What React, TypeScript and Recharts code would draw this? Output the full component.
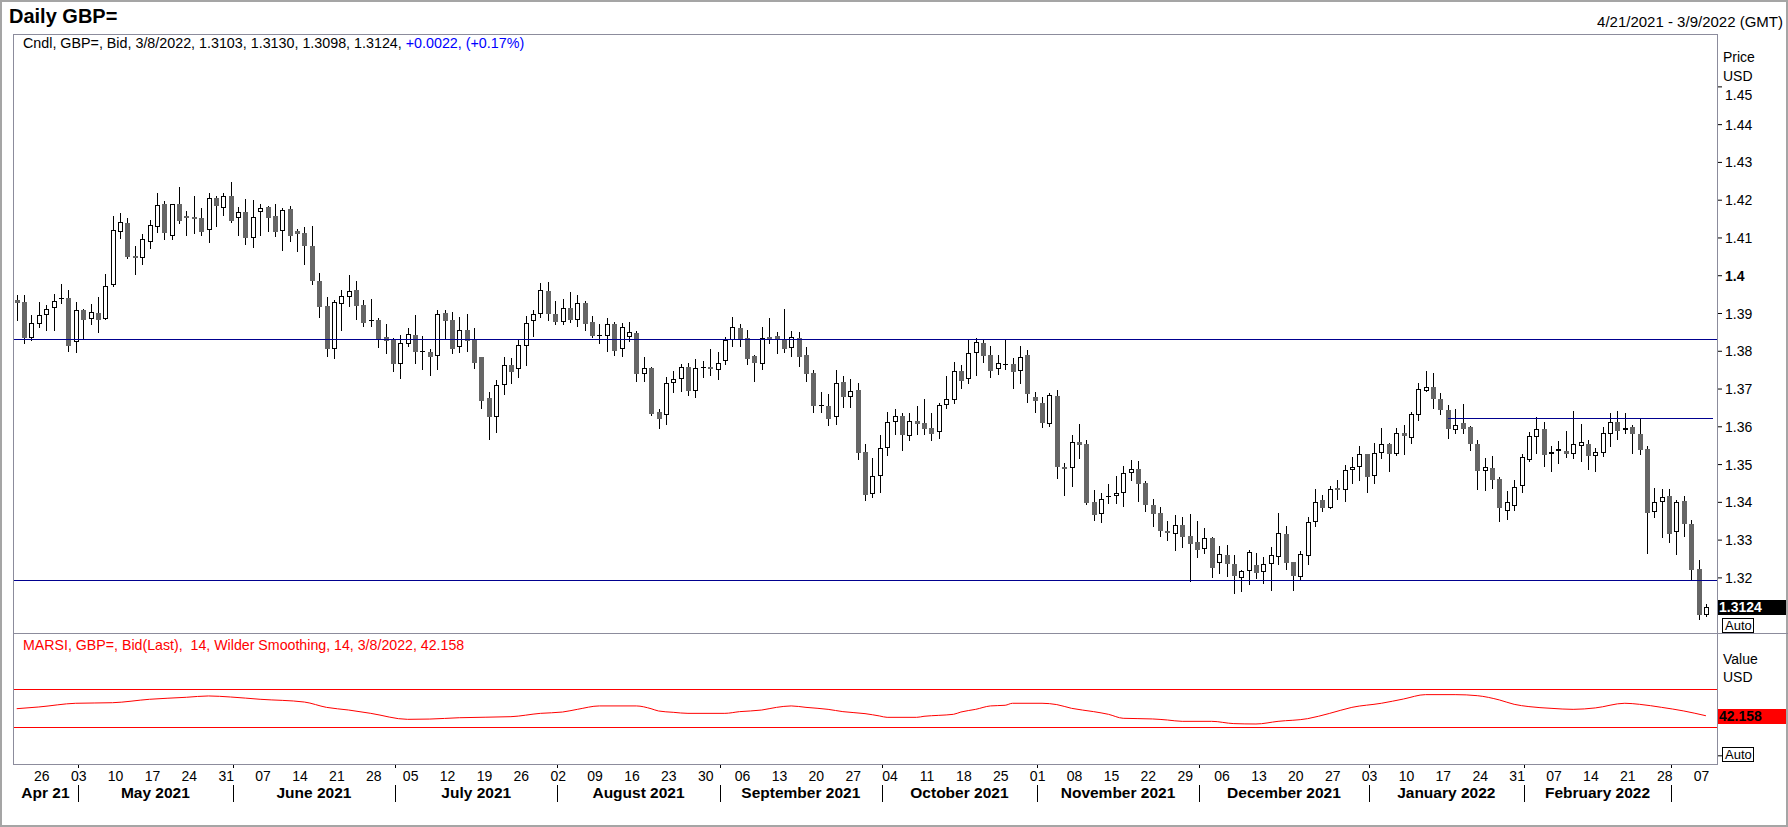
import React from "react";
import { Bar, ComposedChart, Line, LineChart, ReferenceLine, XAxis, YAxis } from "recharts";

const FONT = '"Liberation Sans", Arial, sans-serif';
const FRAME = "#8c8c9c";
const NAVY = "#00008f";
const RED = "#ff0000";
const BEAR = "#666666";

// daily GBP= bid candles, [open, high, low, close], one row per weekday
const apr21 = [
  [1.3937, 1.395, 1.3884, 1.3929], [1.3931, 1.395, 1.3822, 1.3834], [1.3834, 1.3896, 1.3831, 1.3875],
  [1.3873, 1.393, 1.3864, 1.3895], [1.3895, 1.3923, 1.3855, 1.3911], [1.3914, 1.3952, 1.3857, 1.3933],
  [1.3941, 1.3977, 1.3929, 1.3938], [1.3942, 1.3961, 1.38, 1.3813],
];
const may21 = [
  [1.3824, 1.393, 1.3797, 1.3909], [1.3909, 1.3911, 1.3834, 1.3884], [1.3885, 1.3926, 1.3872, 1.3903],
  [1.3901, 1.3943, 1.3852, 1.3884], [1.3885, 1.4005, 1.3885, 1.3973], [1.3976, 1.4158, 1.3974, 1.412],
  [1.4115, 1.4167, 1.41, 1.4142], [1.414, 1.4152, 1.4046, 1.4049], [1.4052, 1.4079, 1.4004, 1.4047],
  [1.4048, 1.4111, 1.4031, 1.4097], [1.4089, 1.4148, 1.4074, 1.4133], [1.4128, 1.4219, 1.4115, 1.4186],
  [1.419, 1.4199, 1.4097, 1.4112], [1.4106, 1.4191, 1.4097, 1.419], [1.419, 1.4235, 1.4139, 1.4146],
  [1.4157, 1.4172, 1.4108, 1.4154], [1.4155, 1.4211, 1.4114, 1.4151], [1.4152, 1.4178, 1.4107, 1.4116],
  [1.412, 1.4219, 1.409, 1.4205], [1.4206, 1.4211, 1.4131, 1.4185], [1.4178, 1.4219, 1.4161, 1.421],
];
const jun21 = [
  [1.4211, 1.4248, 1.4143, 1.4146], [1.4152, 1.4183, 1.4108, 1.4168], [1.4169, 1.4202, 1.4084, 1.41],
  [1.4101, 1.42, 1.4077, 1.4155], [1.4168, 1.419, 1.4107, 1.4178], [1.4181, 1.4185, 1.4118, 1.4154],
  [1.4158, 1.419, 1.4105, 1.4115], [1.4119, 1.4178, 1.4069, 1.4173], [1.4176, 1.4184, 1.4093, 1.4105],
  [1.4118, 1.4123, 1.4066, 1.4111], [1.4112, 1.4129, 1.4032, 1.4079], [1.4079, 1.4131, 1.3979, 1.3987],
  [1.3986, 1.4007, 1.3891, 1.3918], [1.392, 1.3944, 1.3788, 1.3807], [1.3807, 1.3936, 1.3783, 1.393],
  [1.3926, 1.3963, 1.3857, 1.3946], [1.3945, 1.4003, 1.392, 1.3959], [1.3962, 1.3986, 1.3885, 1.392],
  [1.3923, 1.3936, 1.3868, 1.3876], [1.3883, 1.3939, 1.3867, 1.3881], [1.3882, 1.3888, 1.381, 1.3832],
  [1.3838, 1.3872, 1.3795, 1.3826],
];
const jul21 = [
  [1.3829, 1.3834, 1.3748, 1.3765], [1.3766, 1.3843, 1.3728, 1.3822], [1.3819, 1.3862, 1.3815, 1.3845],
  [1.3843, 1.3896, 1.377, 1.3797], [1.38, 1.3841, 1.3752, 1.3798], [1.3798, 1.3806, 1.3738, 1.3784],
  [1.3788, 1.391, 1.3752, 1.3899], [1.3901, 1.391, 1.3836, 1.3879], [1.3882, 1.3904, 1.3796, 1.3807],
  [1.3811, 1.389, 1.3799, 1.3856], [1.3857, 1.3899, 1.3802, 1.3826], [1.383, 1.3862, 1.3757, 1.377],
  [1.3786, 1.3786, 1.3651, 1.3669], [1.3677, 1.3691, 1.3568, 1.3625], [1.3625, 1.3724, 1.3587, 1.371],
  [1.371, 1.3786, 1.3688, 1.3764], [1.3763, 1.3781, 1.3717, 1.3744], [1.3753, 1.3833, 1.3733, 1.3816],
  [1.3814, 1.3893, 1.3763, 1.3875], [1.388, 1.3909, 1.384, 1.3898], [1.3898, 1.3981, 1.3891, 1.3961],
  [1.3959, 1.3983, 1.3882, 1.3899],
];
const aug21 = [
  [1.3899, 1.3933, 1.3873, 1.3878], [1.3878, 1.3938, 1.3873, 1.3914], [1.3914, 1.3956, 1.3878, 1.3883],
  [1.3884, 1.3949, 1.3868, 1.3927], [1.3927, 1.3933, 1.3856, 1.3871], [1.3878, 1.3893, 1.3837, 1.3841],
  [1.3842, 1.3872, 1.3823, 1.384], [1.3841, 1.3888, 1.38, 1.3872], [1.3873, 1.3878, 1.3791, 1.3802],
  [1.3806, 1.3875, 1.3788, 1.3864], [1.3837, 1.3878, 1.3826, 1.385], [1.3848, 1.3853, 1.3722, 1.3739],
  [1.374, 1.3785, 1.3722, 1.3755], [1.3756, 1.3759, 1.363, 1.3635], [1.3639, 1.3647, 1.3598, 1.362],
  [1.3631, 1.3733, 1.3608, 1.3715], [1.3715, 1.3748, 1.3692, 1.3726], [1.3726, 1.3767, 1.3694, 1.3758],
  [1.3758, 1.3769, 1.3685, 1.3696], [1.3694, 1.378, 1.3678, 1.3755], [1.3758, 1.3775, 1.3731, 1.3755],
  [1.3758, 1.3806, 1.3737, 1.3753],
];
const sep21 = [
  [1.375, 1.3798, 1.3727, 1.3769], [1.3774, 1.3837, 1.3765, 1.3831], [1.3831, 1.3891, 1.3815, 1.3864],
  [1.3862, 1.3871, 1.3815, 1.3833], [1.3834, 1.3856, 1.3765, 1.378], [1.3787, 1.379, 1.3722, 1.3768],
  [1.3766, 1.3863, 1.3752, 1.3834], [1.3837, 1.3889, 1.3823, 1.3833], [1.384, 1.3851, 1.3795, 1.3833],
  [1.3831, 1.3912, 1.3799, 1.3805], [1.3808, 1.3854, 1.3788, 1.3837], [1.3835, 1.3851, 1.376, 1.3786],
  [1.3789, 1.3812, 1.3722, 1.3741], [1.3743, 1.3751, 1.3638, 1.3656], [1.3657, 1.3692, 1.3638, 1.3654],
  [1.3655, 1.3688, 1.3606, 1.3622], [1.3625, 1.3751, 1.3608, 1.3715], [1.3718, 1.3735, 1.3653, 1.368],
  [1.3678, 1.3727, 1.3653, 1.3694], [1.3698, 1.3715, 1.3515, 1.3531], [1.3532, 1.3555, 1.3406, 1.342],
  [1.3421, 1.3517, 1.3413, 1.3469],
];
const oct21 = [
  [1.3469, 1.3577, 1.3428, 1.3543], [1.3543, 1.3639, 1.3526, 1.3612], [1.3612, 1.3648, 1.3582, 1.3628],
  [1.3629, 1.3636, 1.3539, 1.3577], [1.3575, 1.3637, 1.3566, 1.3615], [1.3615, 1.3656, 1.358, 1.3608],
  [1.361, 1.3674, 1.3581, 1.3593], [1.3597, 1.3636, 1.3564, 1.3582], [1.3586, 1.3663, 1.3571, 1.3657],
  [1.3657, 1.3735, 1.3651, 1.3673], [1.367, 1.3772, 1.3664, 1.3747], [1.3748, 1.3763, 1.3702, 1.3722],
  [1.3726, 1.3831, 1.3717, 1.3795], [1.3795, 1.3834, 1.3738, 1.3824], [1.3822, 1.3832, 1.3772, 1.3788],
  [1.379, 1.3813, 1.3733, 1.3749], [1.3753, 1.3789, 1.3739, 1.3768], [1.3767, 1.3829, 1.3753, 1.3765],
  [1.3766, 1.3783, 1.3703, 1.3744], [1.3747, 1.3814, 1.3717, 1.3786], [1.3789, 1.3804, 1.3665, 1.3688],
];
const nov21 = [
  [1.3678, 1.3693, 1.3638, 1.3669], [1.3662, 1.3678, 1.36, 1.3611], [1.3608, 1.369, 1.3602, 1.3684],
  [1.3682, 1.3698, 1.3465, 1.3494], [1.3493, 1.3503, 1.3419, 1.3489], [1.3492, 1.3579, 1.3443, 1.3559],
  [1.3559, 1.3607, 1.3518, 1.3553], [1.3555, 1.3565, 1.3396, 1.3399], [1.34, 1.3433, 1.3353, 1.3367],
  [1.3368, 1.3425, 1.3349, 1.341], [1.3417, 1.3449, 1.3398, 1.3415], [1.3417, 1.347, 1.3399, 1.3424],
  [1.3426, 1.3496, 1.339, 1.3479], [1.3479, 1.3512, 1.3459, 1.3487], [1.3488, 1.351, 1.3404, 1.3449],
  [1.3451, 1.3456, 1.3378, 1.3394], [1.3393, 1.3408, 1.3338, 1.337], [1.3372, 1.3387, 1.3311, 1.3323],
  [1.3323, 1.335, 1.33, 1.3318], [1.3316, 1.3367, 1.3275, 1.3339], [1.334, 1.3361, 1.3283, 1.3309],
  [1.331, 1.337, 1.3192, 1.329],
];
const dec21 = [
  [1.3295, 1.335, 1.3256, 1.3275], [1.3276, 1.3331, 1.3267, 1.3305], [1.3305, 1.3307, 1.3203, 1.3227],
  [1.3239, 1.3284, 1.3213, 1.3263], [1.326, 1.3287, 1.3204, 1.3238], [1.3238, 1.3261, 1.3161, 1.3206],
  [1.3199, 1.3222, 1.3166, 1.3219], [1.3219, 1.3274, 1.3183, 1.3268], [1.3234, 1.3266, 1.3201, 1.3214],
  [1.3215, 1.3256, 1.3186, 1.3236], [1.3236, 1.3283, 1.3168, 1.326], [1.3255, 1.3371, 1.3236, 1.3318],
  [1.3316, 1.3337, 1.3223, 1.3239], [1.3242, 1.3242, 1.3168, 1.3204], [1.3202, 1.327, 1.3195, 1.3263],
  [1.3257, 1.3361, 1.3236, 1.3347], [1.3349, 1.3435, 1.3338, 1.3402], [1.3406, 1.3419, 1.3377, 1.3384],
  [1.3385, 1.3444, 1.3384, 1.3435], [1.3438, 1.346, 1.341, 1.3432], [1.3432, 1.3499, 1.3404, 1.3485],
  [1.3485, 1.3521, 1.345, 1.3493], [1.3493, 1.3549, 1.346, 1.3528],
];
const jan22 = [
  [1.3529, 1.3529, 1.3427, 1.3468], [1.3469, 1.3557, 1.3452, 1.3531], [1.3531, 1.3597, 1.3518, 1.3554],
  [1.3554, 1.3557, 1.3484, 1.3528], [1.3527, 1.3597, 1.3525, 1.3583], [1.3583, 1.3605, 1.3529, 1.3575],
  [1.3571, 1.3638, 1.3558, 1.3634], [1.3631, 1.3715, 1.3617, 1.37], [1.3694, 1.3748, 1.3694, 1.3705],
  [1.3705, 1.3742, 1.3649, 1.3673], [1.3673, 1.369, 1.3633, 1.3644], [1.3644, 1.3659, 1.357, 1.3593],
  [1.3591, 1.3648, 1.3583, 1.3605], [1.3609, 1.366, 1.3583, 1.3593], [1.3599, 1.3602, 1.3539, 1.3554],
  [1.3555, 1.3565, 1.3435, 1.3482], [1.3482, 1.3517, 1.3432, 1.3494], [1.349, 1.3523, 1.3439, 1.3458],
  [1.3461, 1.3466, 1.3351, 1.3384], [1.3377, 1.343, 1.3357, 1.3401], [1.3391, 1.3459, 1.3381, 1.3441],
];
const feb22 = [
  [1.3442, 1.3529, 1.3428, 1.3519], [1.3511, 1.3586, 1.3509, 1.3575], [1.3572, 1.3625, 1.3531, 1.3593],
  [1.3593, 1.3612, 1.3497, 1.3526], [1.3527, 1.3549, 1.3484, 1.3533], [1.3535, 1.3563, 1.3504, 1.354],
  [1.3537, 1.359, 1.3521, 1.3529], [1.3529, 1.3642, 1.3518, 1.3554], [1.355, 1.3607, 1.351, 1.3559],
  [1.3555, 1.3565, 1.3489, 1.3523], [1.3522, 1.3543, 1.3482, 1.3532], [1.3531, 1.3599, 1.3523, 1.3583],
  [1.3581, 1.3636, 1.355, 1.3612], [1.3612, 1.3641, 1.3569, 1.3588], [1.3591, 1.3636, 1.3583, 1.3596],
  [1.3599, 1.3605, 1.3531, 1.358], [1.3582, 1.3622, 1.3528, 1.3538], [1.354, 1.3548, 1.3267, 1.3373],
  [1.3374, 1.3437, 1.3362, 1.3402], [1.3402, 1.3436, 1.3307, 1.3415],
];
const mar22 = [
  [1.3417, 1.3436, 1.3295, 1.3317], [1.3321, 1.3406, 1.3264, 1.34], [1.3403, 1.3417, 1.3312, 1.3343],
  [1.3342, 1.3353, 1.3195, 1.3221], [1.3223, 1.3247, 1.3092, 1.3102], [1.3103, 1.313, 1.3098, 1.3124],
];

const ohlc = [...apr21, ...may21, ...jun21, ...jul21, ...aug21, ...sep21, ...oct21, ...nov21, ...dec21, ...jan22, ...feb22, ...mar22];

const monthLabels = [
  "Apr 21", "May 2021", "June 2021", "July 2021", "August 2021", "September 2021",
  "October 2021", "November 2021", "December 2021", "January 2022", "February 2022",
];
const priceTicks = [1.32, 1.33, 1.34, 1.35, 1.36, 1.37, 1.38, 1.39, 1.4, 1.41, 1.42, 1.43, 1.44, 1.45];

// drawn horizontal levels
const fullLevels = [1.383, 1.3192];
const lateLevel = { fromDay: 194, price: 1.3622 };

// MARSI(14, Wilder 14): [trading day index, value]
const marsiPoints = [
  [0, 49.6], [3, 51.4], [8, 55.3], [13, 55.9], [18, 59.5], [23, 61.6], [26, 63.0], [29, 61.9],
  [33, 59.5], [39, 56.6], [42, 51.0], [45, 48.2], [48, 44.7], [53, 38.4], [56, 38.7], [60, 40.1],
  [67, 41.2], [71, 44.7], [74, 46.1], [76, 48.9], [79, 52.5], [84, 52.5], [86, 49.6], [87, 47.2],
  [89, 45.8], [91, 44.7], [96, 44.7], [98, 46.5], [101, 48.2], [103, 51.0], [105, 52.5], [107, 51.0],
  [110, 48.9], [112, 46.5], [115, 44.4], [117, 41.9], [118, 40.5], [122, 40.5], [123, 41.6], [125, 42.6],
  [127, 43.7], [128, 46.1], [130, 48.9], [132, 52.5], [134, 53.2], [135, 55.3], [139, 55.3], [141, 53.9],
  [143, 50.0], [146, 46.5], [148, 43.7], [150, 39.5], [154, 38.8], [156, 37.7], [158, 36.3], [162, 36.3],
  [165, 33.9], [168, 33.5], [171, 36.3], [175, 39.1], [178, 44.7], [181, 51.0], [185, 55.3], [188, 59.8],
  [191, 64.4], [195, 64.4], [198, 63.3], [201, 58.8], [203, 54.2], [205, 51.8], [208, 50.0], [211, 48.9],
  [214, 50.4], [218, 55.3], [220, 54.2], [223, 51.0], [226, 47.2], [229, 42.158],
];
const rsiBands = [70, 30];

// weekdays from 21 Apr 2021, plus the empty 9 Mar 2022 slot that closes the range
const days: Date[] = [];
for (let t = Date.UTC(2021, 3, 21); days.length <= ohlc.length; t += 86400000) {
  const wd = new Date(t).getUTCDay();
  if (wd > 0 && wd < 6) days.push(new Date(t));
}
const dayKey = (d: Date) => d.toISOString().slice(0, 10);

const candleRows = days.map((d, i) => {
  const k = ohlc[i];
  if (!k) return { day: dayKey(d) };
  return { day: dayKey(d), range: [k[2], k[1]], o: k[0], h: k[1], l: k[2], c: k[3] };
});
const marsiRows = marsiPoints.map(([i, v]) => ({ i, v }));

const last = ohlc[ohlc.length - 1];
const prevClose = ohlc[ohlc.length - 2][3];
const change = last[3] - prevClose;
const lastMarsi = marsiPoints[marsiPoints.length - 1][1];

// bottom axis: Monday dates, month separators, month names centred between them
type AxisTick = { at: number; kind: "day" | "sep" | "month"; label?: string };
const axisTicks: AxisTick[] = [];
const monthEdges: number[] = [-0.5];
days.forEach((d, i) => {
  if (i >= ohlc.length) return;
  if (d.getUTCDay() === 1) {
    axisTicks.push({ at: i, kind: "day", label: String(d.getUTCDate()).padStart(2, "0") });
  }
  if (i > 0 && d.getUTCMonth() !== days[i - 1].getUTCMonth()) {
    monthEdges.push(i + 0.3);
    axisTicks.push({ at: i + 0.3, kind: "sep" });
  }
});
monthEdges.push(days.length - 0.5);
monthLabels.forEach((label, m) => {
  axisTicks.push({ at: (monthEdges[m] + monthEdges[m + 1]) / 2, kind: "month", label });
});

function Candle(props: any) {
  const { x, y, width, height, payload } = props;
  if (!payload || payload.h == null) return <g />;
  const { o, h, l, c } = payload;
  const k = h > l ? height / (h - l) : 0;
  const yOf = (p: number) => y + (h - p) * k;
  const cx = Math.round(x + width / 2);
  const top = Math.round(yOf(Math.max(o, c)));
  const bot = Math.max(Math.round(yOf(Math.min(o, c))), top + 1);
  const up = c > o;
  return (
    <g shapeRendering="crispEdges">
      <line x1={cx + 0.5} x2={cx + 0.5} y1={Math.round(y)} y2={Math.round(y + height) + 1} stroke="#000" />
      {up ? (
        bot - top >= 3 ? (
          <rect x={cx - 1.5} y={top + 0.5} width={4} height={bot - top - 1} fill="#fff" stroke="#000" />
        ) : (
          <rect x={cx - 2} y={top} width={5} height={bot - top} fill="#000" />
        )
      ) : (
        <rect x={cx - 2} y={top} width={5} height={bot - top} fill={bot - top < 2 ? "#000" : BEAR} />
      )}
    </g>
  );
}

function PriceTick({ x, y, payload }: any) {
  const v = payload.value;
  const bold = Math.abs(v - 1.4) < 1e-9;
  // the 1.45 label sits lower, under the USD caption
  const shift = v > 1.449 ? 8 : 0;
  return (
    <text x={x} y={y + shift + 5} fontSize={14} fontFamily={FONT} fontWeight={bold ? 700 : 400} fill="#000" textAnchor="start">
      {bold ? "1.4" : v.toFixed(2)}
    </text>
  );
}

function NoLabel() {
  return <g />;
}

function Flag({ viewBox, text, bg, fg }: any) {
  if (!viewBox) return <g />;
  const x = viewBox.x + viewBox.width + 1;
  const y = Math.round(viewBox.y);
  return (
    <g>
      <rect x={x} y={y - 7} width={70} height={15} fill={bg} />
      <text x={x + 1} y={y + 5} fontSize={14} fontWeight={700} fontFamily={FONT} fill={fg}>
        {text}
      </text>
    </g>
  );
}

function DateTick({ x, y, payload }: any) {
  const t = axisTicks.find((a) => Math.abs(a.at - payload.value) < 1e-6);
  if (!t) return <g />;
  if (t.kind === "sep") {
    const sx = Math.round(x) + 0.5;
    return (
      <g shapeRendering="crispEdges">
        <line x1={sx} x2={sx} y1={y} y2={y + 4} stroke="#000" />
        <line x1={sx} x2={sx} y1={y + 21} y2={y + 38} stroke="#000" />
      </g>
    );
  }
  if (t.kind === "day") {
    return (
      <text x={x + 3} y={y + 17} textAnchor="middle" fontSize={14} fontFamily={FONT} fill="#000">
        {t.label}
      </text>
    );
  }
  return (
    <text x={x} y={y + 34} textAnchor="middle" fontSize={15.5} fontWeight={700} fontFamily={FONT} fill="#000">
      {t.label}
    </text>
  );
}

export default function App() {
  return (
    <div style={{ position: "absolute", left: 0, top: 0, width: 1788, height: 827, background: "#fff", overflow: "hidden", fontFamily: FONT }}>
      <div style={{ position: "absolute", left: 13, top: 34 }}>
        <ComposedChart width={1775} height={599} data={candleRows} margin={{ top: 0, right: 0, bottom: 0, left: 0 }}>
          <XAxis dataKey="day" hide />
          <YAxis
            orientation="right"
            width={71}
            type="number"
            domain={[1.30541, 1.464]}
            allowDataOverflow
            ticks={priceTicks}
            interval={0}
            tick={<PriceTick />}
            tickSize={5}
            tickMargin={3}
            tickLine={{ stroke: "#000" }}
            axisLine={false}
          />
          {fullLevels.map((p) => (
            <ReferenceLine key={p} y={p} stroke={NAVY} strokeWidth={1} shapeRendering="crispEdges" />
          ))}
          <ReferenceLine
            segment={[
              { x: candleRows[lateLevel.fromDay].day, y: lateLevel.price },
              { x: candleRows[candleRows.length - 1].day, y: lateLevel.price },
            ]}
            stroke={NAVY}
            strokeWidth={1}
            shapeRendering="crispEdges"
          />
          <Bar dataKey="range" shape={<Candle />} isAnimationActive={false} />
          <ReferenceLine y={last[3]} stroke="none" label={<Flag text={last[3].toFixed(4)} bg="#000" fg="#fff" />} />
        </ComposedChart>
      </div>

      <div style={{ position: "absolute", left: 13, top: 634 }}>
        <LineChart width={1775} height={193} data={marsiRows} margin={{ top: 0, right: 0, bottom: 0, left: 0 }}>
          <XAxis
            type="number"
            dataKey="i"
            domain={[-0.5, days.length - 0.5]}
            allowDataOverflow
            ticks={axisTicks.map((t) => t.at)}
            interval={0}
            tick={<DateTick />}
            height={63}
            axisLine={false}
            tickLine={false}
            tickSize={0}
            tickMargin={0}
          />
          <YAxis
            orientation="right"
            width={71}
            type="number"
            domain={[-8.6, 128.2]}
            allowDataOverflow
            ticks={[0]}
            tick={<NoLabel />}
            tickSize={5}
            tickLine={{ stroke: "#000" }}
            axisLine={false}
          />
          {rsiBands.map((b) => (
            <ReferenceLine key={b} y={b} stroke={RED} strokeWidth={1} shapeRendering="crispEdges" />
          ))}
          <Line type="monotone" dataKey="v" stroke={RED} strokeWidth={1} dot={false} isAnimationActive={false} />
          <ReferenceLine y={lastMarsi} stroke="none" label={<Flag text={lastMarsi.toFixed(3)} bg={RED} fg="#000" />} />
        </LineChart>
      </div>

      <svg width={1788} height={827} style={{ position: "absolute", left: 0, top: 0, pointerEvents: "none" }} fontFamily={FONT}>
        <rect x={1} y={1} width={1786} height={825} fill="none" stroke="#a5a5a5" strokeWidth={2} />
        <rect x={13.5} y={34.5} width={1704} height={730} fill="none" stroke={FRAME} />
        <line x1={13} x2={1788} y1={633.5} y2={633.5} stroke={FRAME} />
        <text x={9} y={23} fontSize={20} fontWeight={700} fill="#000">Daily GBP=</text>
        <text x={1783} y={27} fontSize={15} textAnchor="end" fill="#000">4/21/2021 - 3/9/2022 (GMT)</text>
        <text x={23} y={48} fontSize={14.3} fill="#000">
          {`Cndl, GBP=, Bid, 3/8/2022, ${last.map((v) => v.toFixed(4)).join(", ")}, `}
          <tspan fill="#0000ff">{`+${change.toFixed(4)}, (+${((change / prevClose) * 100).toFixed(2)}%)`}</tspan>
        </text>
        <text x={1723} y={62} fontSize={14} fill="#000">Price</text>
        <text x={1723} y={81} fontSize={14} fill="#000">USD</text>
        <rect x={1722.5} y={618.5} width={31} height={14} fill="#fff" stroke="#000" />
        <text x={1725} y={630} fontSize={13} fill="#000">Auto</text>
        <text x={23} y={650} fontSize={14.2} fill={RED} style={{ whiteSpace: "pre" }}>
          {`MARSI, GBP=, Bid(Last),  14, Wilder Smoothing, 14, 3/8/2022, ${lastMarsi.toFixed(3)}`}
        </text>
        <text x={1723} y={664} fontSize={14} fill="#000">Value</text>
        <text x={1723} y={682} fontSize={14} fill="#000">USD</text>
        <rect x={1722.5} y={747.5} width={31} height={14} fill="#fff" stroke="#000" />
        <text x={1725} y={759} fontSize={13} fill="#000">Auto</text>
      </svg>
    </div>
  );
}
